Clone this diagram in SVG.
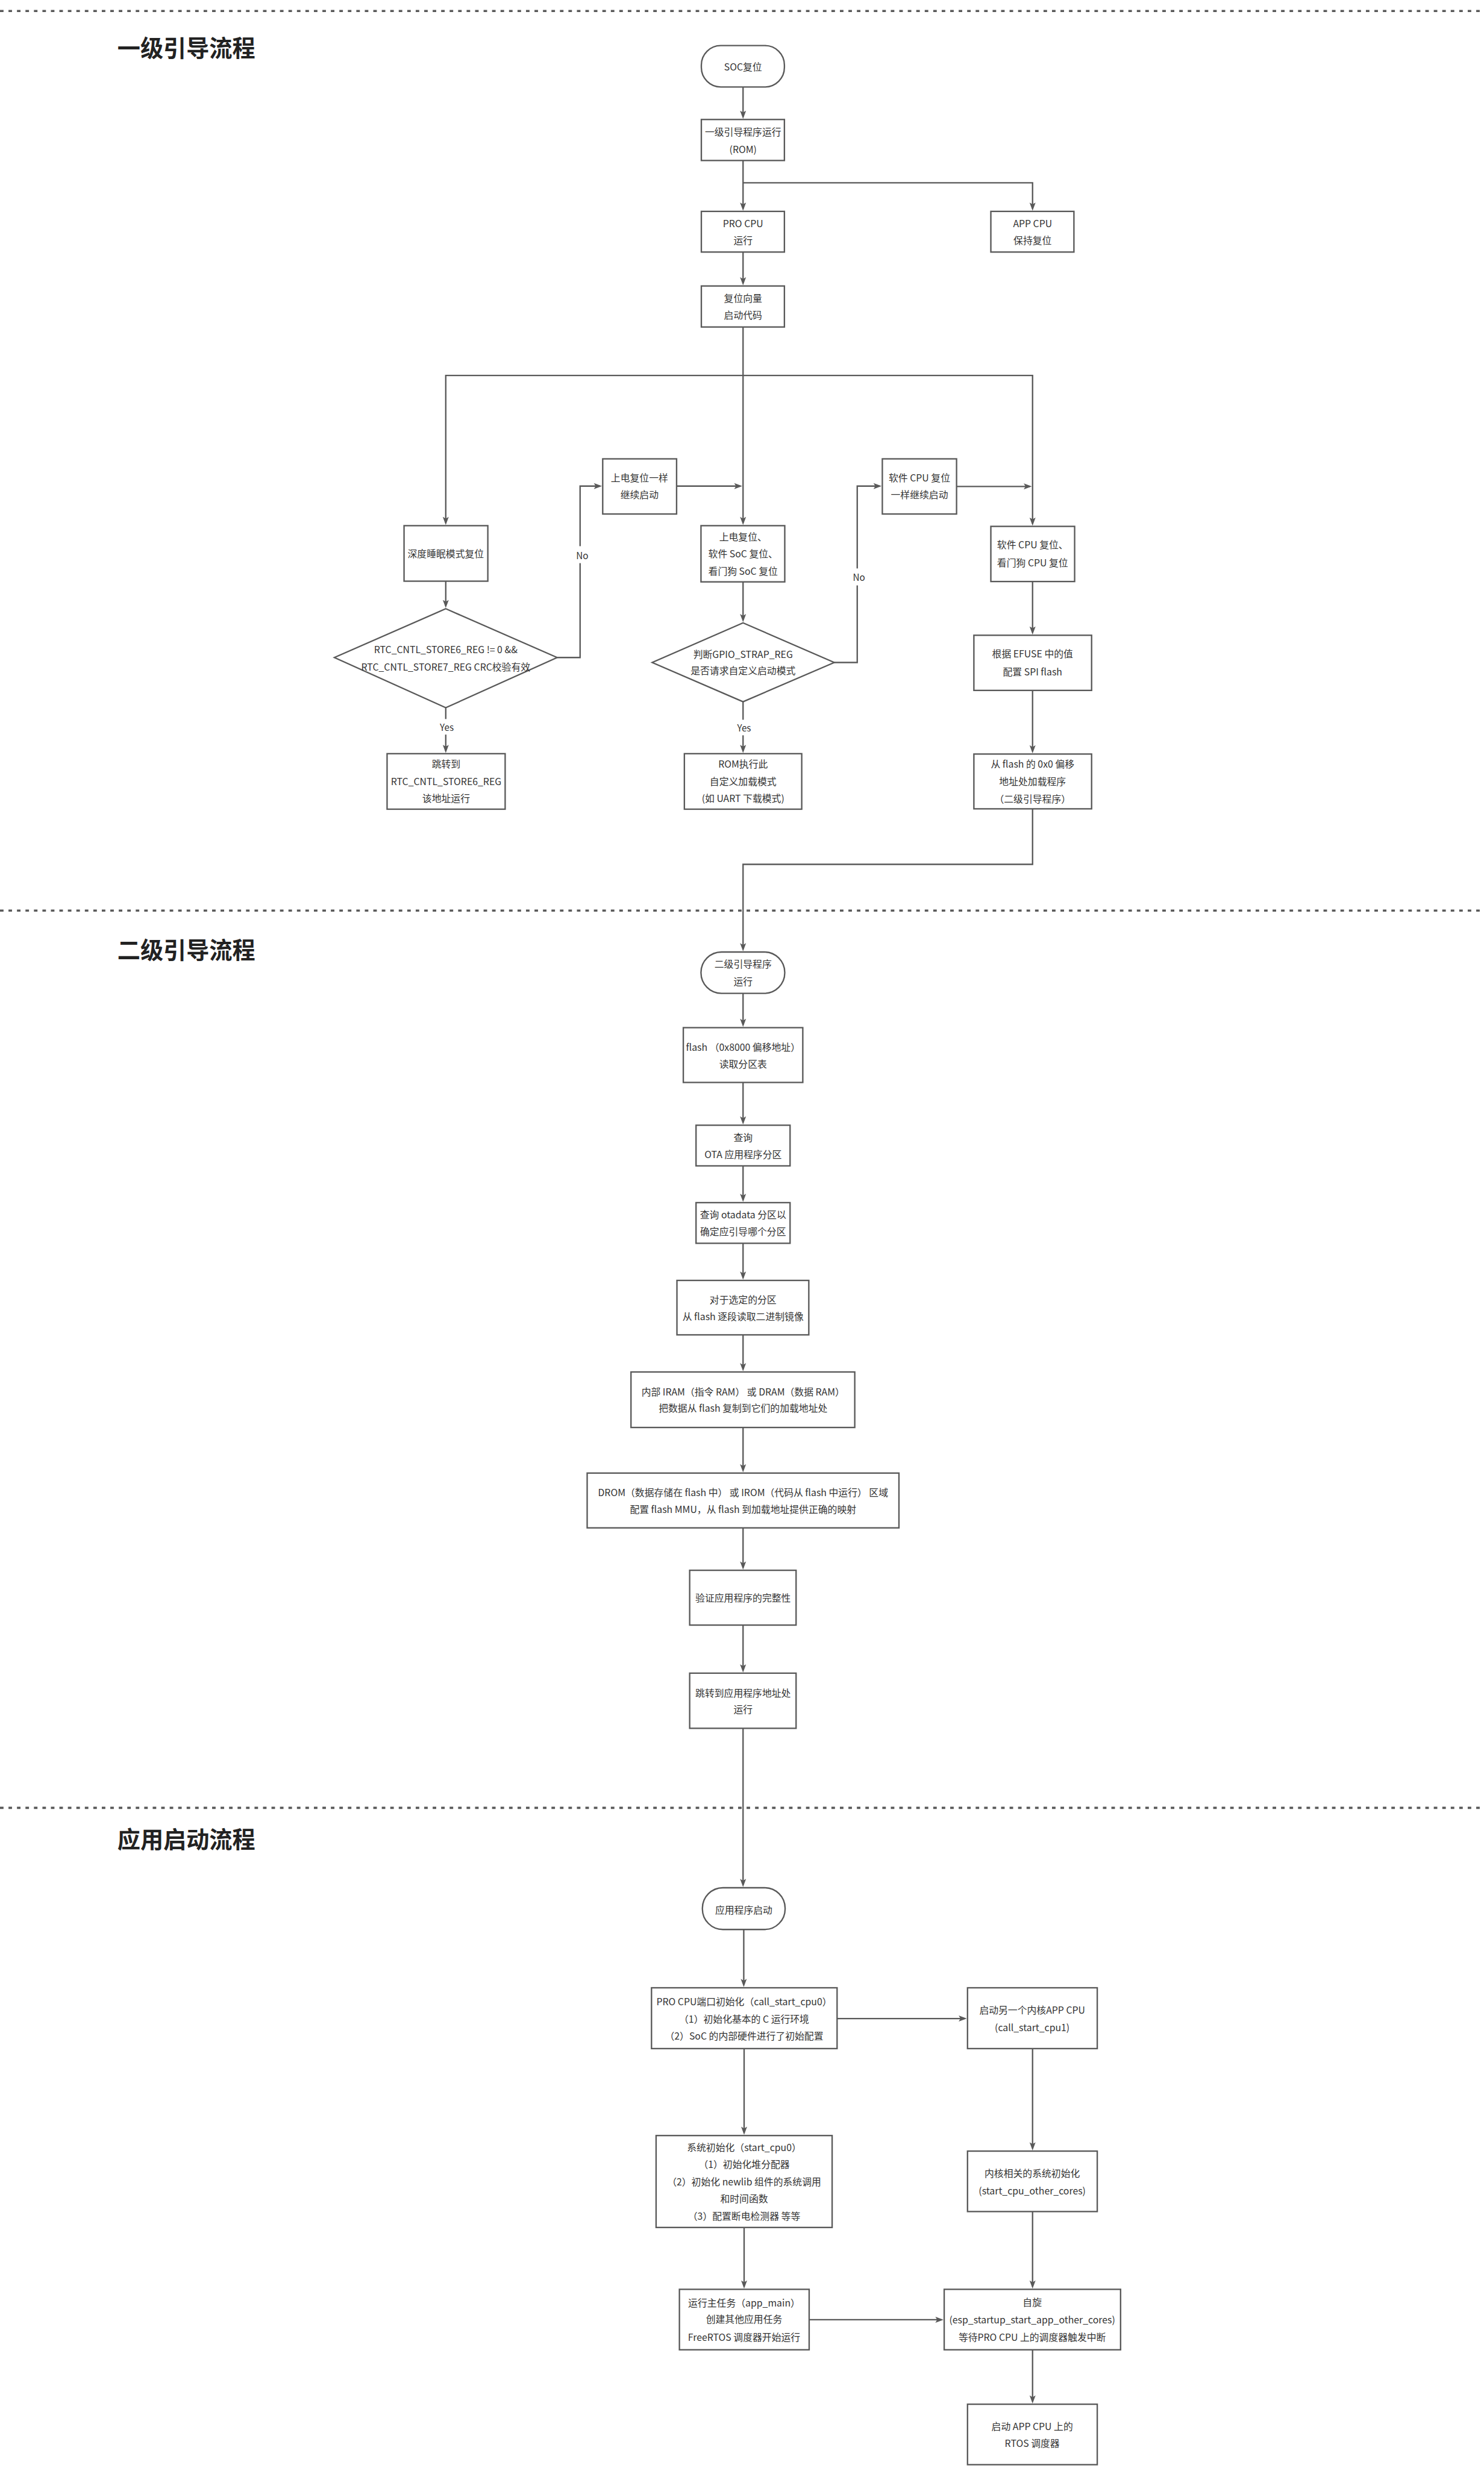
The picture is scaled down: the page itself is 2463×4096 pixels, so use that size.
<svg xmlns="http://www.w3.org/2000/svg" width="2463" height="4096" viewBox="0 0 2463 4096">
<defs>
<style>
.bx{fill:#fff;stroke:#595959;stroke-width:4}
.t{font-family:"Noto Sans CJK SC","Liberation Sans",sans-serif;font-size:27px;fill:#333;text-anchor:middle;dominant-baseline:central}
.lb{font-family:"Noto Sans CJK SC","Liberation Sans",sans-serif;font-size:26px;fill:#333;text-anchor:middle;dominant-baseline:central}
.ttl{font-family:"Noto Sans CJK SC","Liberation Sans",sans-serif;font-size:65px;font-weight:700;fill:#222}
.c{fill:none;stroke:#595959;stroke-width:4}
.a{marker-end:url(#ah)}
.dash{stroke:#595959;stroke-width:6;stroke-dasharray:10 14}
.lbg{fill:#fff}
</style>
<marker id="ah" viewBox="-18 -9 26 18" refX="0" refY="0" markerWidth="26" markerHeight="18" markerUnits="userSpaceOnUse" orient="auto">
<path d="M6,0 L-17,-8.5 L-12,0 L-17,8.5 Z" fill="#595959"/>
</marker>
</defs>
<rect x="0" y="0" width="2463" height="4096" fill="#fff"/>
<g transform="scale(0.5867)">
<g id="separators">
<line class="dash" x1="0" y1="31" x2="4198" y2="31"/>
<line class="dash" x1="0" y1="2576" x2="4198" y2="2576"/>
<line class="dash" x1="0" y1="5114" x2="4198" y2="5114"/>
</g>
<g id="titles">
<text class="ttl" x="332" y="160">一级引导流程</text>
<text class="ttl" x="332" y="2712">二级引导流程</text>
<text class="ttl" x="332" y="5228">应用启动流程</text>
</g>
<g id="connectors">
<path class="c a" d="M2102,246 V330"/>
<path class="c a" d="M2102,454 V590"/>
<path class="c a" d="M2102,517 H2921 V590"/>
<path class="c a" d="M2102,713 V801"/>
<path class="c a" d="M2102,925 V1479"/>
<path class="c a" d="M2102,1062 H1261 V1479"/>
<path class="c a" d="M2102,1062 H2921 V1481"/>
<path class="c a" d="M1261,1644 V1714"/>
<path class="c a" d="M1576,1860 H1641 V1375 H1697"/>
<path class="c a" d="M1261,2002 V2124"/>
<path class="c a" d="M1914,1375 H2094"/>
<path class="c a" d="M2102,1646 V1754"/>
<path class="c a" d="M2360,1874 H2425 V1375 H2488"/>
<path class="c a" d="M2102,1985 V2124"/>
<path class="c a" d="M2706,1376 H2913"/>
<path class="c a" d="M2921,1645 V1789"/>
<path class="c a" d="M2921,1953 V2125"/>
<path class="c a" d="M2921,2288 V2445 H2102 V2685"/>
<path class="c a" d="M2102,2810 V2899"/>
<path class="c a" d="M2102,3062 V3175"/>
<path class="c a" d="M2102,3298 V3394"/>
<path class="c a" d="M2102,3517 V3614"/>
<path class="c a" d="M2102,3776 V3873"/>
<path class="c a" d="M2102,4038 V4159"/>
<path class="c a" d="M2102,4322 V4434"/>
<path class="c a" d="M2102,4597 V4725"/>
<path class="c a" d="M2102,4889 V5332"/>
<path class="c a" d="M2104,5458 V5615"/>
<path class="c a" d="M2368,5710 H2729"/>
<path class="c a" d="M2105,5795 V6033"/>
<path class="c a" d="M2105,6301 V6468"/>
<path class="c a" d="M2289,6562 H2663"/>
<path class="c a" d="M2921,5795 V6077"/>
<path class="c a" d="M2921,6256 V6468"/>
<path class="c a" d="M2921,6647 V6793"/>
<rect class="lbg" x="1622" y="1545" width="50" height="48"/>
<text class="lb" x="1647" y="1569">No</text>
<rect class="lbg" x="1236" y="2034" width="56" height="44"/>
<text class="lb" x="1264" y="2056">Yes</text>
<rect class="lbg" x="2405" y="1608" width="50" height="48"/>
<text class="lb" x="2430" y="1632">No</text>
<rect class="lbg" x="2077" y="2036" width="56" height="44"/>
<text class="lb" x="2105" y="2058">Yes</text>
</g>
<g id="n_soc"><rect class="bx" x="1984" y="129" width="235" height="117" rx="55"/><text class="t" x="2102" y="188">SOC复位</text></g>
<g id="n_rom"><rect class="bx" x="1984" y="338" width="235" height="116"/><text class="t" x="2102" y="373">一级引导程序运行</text><text class="t" x="2102" y="421">(ROM)</text></g>
<g id="n_pro"><rect class="bx" x="1984" y="598" width="235" height="115"/><text class="t" x="2102" y="632">PRO CPU</text><text class="t" x="2102" y="679">运行</text></g>
<g id="n_app"><rect class="bx" x="2803" y="598" width="235" height="115"/><text class="t" x="2921" y="632">APP CPU</text><text class="t" x="2921" y="679">保持复位</text></g>
<g id="n_vec"><rect class="bx" x="1984" y="809" width="235" height="116"/><text class="t" x="2102" y="843">复位向量</text><text class="t" x="2102" y="891">启动代码</text></g>
<g id="n_deep"><rect class="bx" x="1143" y="1487" width="237" height="157"/><text class="t" x="1261" y="1565">深度睡眠模式复位</text></g>
<g id="n_d1"><polygon class="bx" points="1261,1722 1576,1860 1261,2002 946,1860"/><text class="t" x="1261" y="1836">RTC_CNTL_STORE6_REG != 0 &amp;&amp;</text><text class="t" x="1261" y="1886">RTC_CNTL_STORE7_REG CRC校验有效</text></g>
<g id="n_jump"><rect class="bx" x="1095" y="2132" width="334" height="157"/><text class="t" x="1262" y="2161">跳转到</text><text class="t" x="1262" y="2209">RTC_CNTL_STORE6_REG</text><text class="t" x="1262" y="2258">该地址运行</text></g>
<g id="n_pwr1"><rect class="bx" x="1705" y="1298" width="209" height="156"/><text class="t" x="1809" y="1350">上电复位一样</text><text class="t" x="1809" y="1399">继续启动</text></g>
<g id="n_pwr"><rect class="bx" x="1983" y="1487" width="237" height="159"/><text class="t" x="2102" y="1517">上电复位、</text><text class="t" x="2102" y="1566">软件 SoC 复位、</text><text class="t" x="2102" y="1615">看门狗 SoC 复位</text></g>
<g id="n_d2"><polygon class="bx" points="2102,1762 2360,1874 2102,1985 1845,1874"/><text class="t" x="2102" y="1851">判断GPIO_STRAP_REG</text><text class="t" x="2102" y="1897">是否请求自定义启动模式</text></g>
<g id="n_romx"><rect class="bx" x="1936" y="2132" width="332" height="157"/><text class="t" x="2102" y="2161">ROM执行此</text><text class="t" x="2102" y="2209">自定义加载模式</text><text class="t" x="2102" y="2258">(如 UART 下载模式)</text></g>
<g id="n_sw1"><rect class="bx" x="2496" y="1298" width="210" height="156"/><text class="t" x="2601" y="1350">软件 CPU 复位</text><text class="t" x="2601" y="1399">一样继续启动</text></g>
<g id="n_sw"><rect class="bx" x="2803" y="1489" width="237" height="156"/><text class="t" x="2921" y="1540">软件 CPU 复位、</text><text class="t" x="2921" y="1591">看门狗 CPU 复位</text></g>
<g id="n_efuse"><rect class="bx" x="2755" y="1797" width="333" height="156"/><text class="t" x="2921" y="1848">根据 EFUSE 中的值</text><text class="t" x="2921" y="1899">配置 SPI flash</text></g>
<g id="n_load"><rect class="bx" x="2755" y="2133" width="333" height="155"/><text class="t" x="2921" y="2160">从 flash 的 0x0 偏移</text><text class="t" x="2921" y="2210">地址处加载程序</text><text class="t" x="2921" y="2259">（二级引导程序）</text></g>
<g id="n_s2"><rect class="bx" x="1983" y="2693" width="237" height="117" rx="58"/><text class="t" x="2102" y="2727">二级引导程序</text><text class="t" x="2102" y="2776">运行</text></g>
<g id="n_flash"><rect class="bx" x="1933" y="2907" width="338" height="155"/><text class="t" x="2102" y="2961">flash （0x8000 偏移地址）</text><text class="t" x="2102" y="3009">读取分区表</text></g>
<g id="n_ota"><rect class="bx" x="1969" y="3183" width="266" height="115"/><text class="t" x="2102" y="3217">查询</text><text class="t" x="2102" y="3265">OTA 应用程序分区</text></g>
<g id="n_otad"><rect class="bx" x="1969" y="3402" width="266" height="115"/><text class="t" x="2102" y="3436">查询 otadata 分区以</text><text class="t" x="2102" y="3483">确定应引导哪个分区</text></g>
<g id="n_sel"><rect class="bx" x="1915" y="3622" width="373" height="154"/><text class="t" x="2102" y="3676">对于选定的分区</text><text class="t" x="2102" y="3724">从 flash 逐段读取二进制镜像</text></g>
<g id="n_iram"><rect class="bx" x="1785" y="3881" width="633" height="157"/><text class="t" x="2102" y="3937">内部 IRAM（指令 RAM） 或 DRAM（数据 RAM）</text><text class="t" x="2102" y="3983">把数据从 flash 复制到它们的加载地址处</text></g>
<g id="n_drom"><rect class="bx" x="1661" y="4167" width="882" height="155"/><text class="t" x="2102" y="4221">DROM（数据存储在 flash 中） 或 IROM（代码从 flash 中运行） 区域</text><text class="t" x="2102" y="4268">配置 flash MMU，从 flash 到加载地址提供正确的映射</text></g>
<g id="n_verify"><rect class="bx" x="1951" y="4442" width="301" height="155"/><text class="t" x="2102" y="4520">验证应用程序的完整性</text></g>
<g id="n_jumpapp"><rect class="bx" x="1951" y="4733" width="301" height="156"/><text class="t" x="2102" y="4788">跳转到应用程序地址处</text><text class="t" x="2102" y="4835">运行</text></g>
<g id="n_appstart"><rect class="bx" x="1987" y="5340" width="234" height="118" rx="58"/><text class="t" x="2104" y="5402">应用程序启动</text></g>
<g id="n_cpu0"><rect class="bx" x="1843" y="5623" width="525" height="172"/><text class="t" x="2105" y="5661">PRO CPU端口初始化（call_start_cpu0）</text><text class="t" x="2105" y="5711">（1）初始化基本的 C 运行环境</text><text class="t" x="2105" y="5759">（2）SoC 的内部硬件进行了初始配置</text></g>
<g id="n_cpu1"><rect class="bx" x="2737" y="5623" width="367" height="172"/><text class="t" x="2920" y="5686">启动另一个内核APP CPU</text><text class="t" x="2920" y="5734">(call_start_cpu1)</text></g>
<g id="n_sys"><rect class="bx" x="1856" y="6041" width="498" height="260"/><text class="t" x="2105" y="6074">系统初始化（start_cpu0）</text><text class="t" x="2105" y="6122">（1）初始化堆分配器</text><text class="t" x="2105" y="6171">（2）初始化 newlib 组件的系统调用</text><text class="t" x="2105" y="6219">和时间函数</text><text class="t" x="2105" y="6268">（3）配置断电检测器 等等</text></g>
<g id="n_main"><rect class="bx" x="1922" y="6476" width="367" height="171"/><text class="t" x="2105" y="6513">运行主任务（app_main）</text><text class="t" x="2105" y="6560">创建其他应用任务</text><text class="t" x="2105" y="6610">FreeRTOS 调度器开始运行</text></g>
<g id="n_cores"><rect class="bx" x="2737" y="6085" width="367" height="171"/><text class="t" x="2920" y="6147">内核相关的系统初始化</text><text class="t" x="2920" y="6196">(start_cpu_other_cores)</text></g>
<g id="n_spin"><rect class="bx" x="2671" y="6476" width="499" height="171"/><text class="t" x="2920" y="6511">自旋</text><text class="t" x="2920" y="6562">(esp_startup_start_app_other_cores)</text><text class="t" x="2920" y="6610">等待PRO CPU 上的调度器触发中断</text></g>
<g id="n_rtos"><rect class="bx" x="2737" y="6801" width="367" height="171"/><text class="t" x="2920" y="6863">启动 APP CPU 上的</text><text class="t" x="2920" y="6911">RTOS 调度器</text></g>
</g>
</svg>
